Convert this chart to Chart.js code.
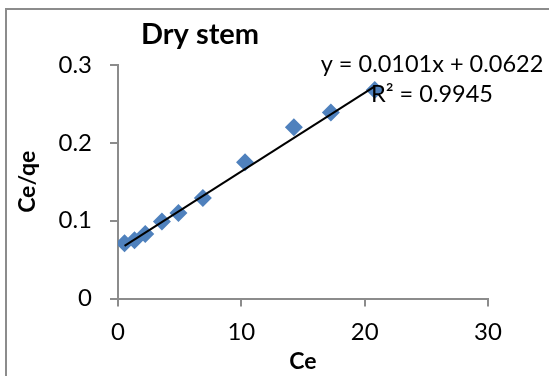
<!DOCTYPE html>
<html>
<head>
<meta charset="utf-8">
<script src="https://cdn.jsdelivr.net/npm/chart.js@4/dist/chart.umd.min.js"></script>
<style>
    html, body { margin: 0; padding: 0; background: #fff; overflow: hidden; }
    #frame { position: absolute; left: 5px; top: 8px; width: 600px; height: 400px; border: 2px solid #8c8c8c; }
    #wrap { position: absolute; left: 0; top: 0; width: 549px; height: 376px; }
</style>
</head>
<body>
<div id="frame"></div>
<div id="wrap"><canvas id="isoChart"></canvas></div>
<script>
// Dry stem isotherm: Ce vs Ce/qe
const ceValues   = [0.53, 1.34, 2.21, 3.56, 4.90, 6.88, 10.3, 14.26, 17.26, 20.82];
const ceQeValues = [0.071, 0.075, 0.083, 0.099, 0.110, 0.129, 0.175, 0.220, 0.239, 0.268];

// linear trendline as printed on the chart
const trendSlope = 0.0101;
const trendIntercept = 0.0622;
const trendX = [0.53, 20.82];

const xTicks = [0, 10, 20, 30];
const yTicks = [0, 0.1, 0.2, 0.3];

const chartTitle = 'Dry stem';
const eqLines = ['y = 0.0101x + 0.0622', 'R\u00b2 = 0.9945'];

const FONT = 'Lato';
const AXIS_GREY = '#8c8c8c';

const annotations = {
    id: 'annotations',
    afterDraw(chart) {
        const ctx = chart.ctx;
        ctx.save();
        ctx.fillStyle = '#000';
        ctx.textAlign = 'center';
        ctx.textBaseline = 'alphabetic';
        ctx.font = 'bold 29px ' + FONT;
        ctx.fillText(chartTitle, 200, 44);
        ctx.font = '23.5px ' + FONT;
        ctx.fillText(eqLines[0], 432, 72);
        ctx.fillText(eqLines[1], 432, 102);
        ctx.restore();
    }
};

new Chart(document.getElementById('isoChart').getContext('2d'), {
    type: 'scatter',
    data: {
        datasets: [
            {
                label: 'Trend',
                type: 'line',
                order: 0,
                data: trendX.map(x => ({ x: x, y: trendSlope * x + trendIntercept })),
                borderColor: '#000',
                borderWidth: 2,
                pointRadius: 0,
                fill: false
            },
            {
                label: 'Ce/qe',
                order: 1,
                data: ceValues.map((x, i) => ({ x: x, y: ceQeValues[i] })),
                pointStyle: 'rectRot',
                pointRadius: 9,
                pointBackgroundColor: '#4f81bd',
                pointBorderColor: '#4f81bd',
                pointBorderWidth: 0
            }
        ]
    },
    options: {
        responsive: true,
        maintainAspectRatio: false,
        animation: false,
        layout: { padding: { top: 65, right: 61, left: 0, bottom: 0 } },
        plugins: {
            legend: { display: false },
            tooltip: { enabled: false },
            title: { display: false }
        },
        scales: {
            x: {
                type: 'linear',
                min: 0,
                max: 30,
                afterFit(scale) { scale.height = 77.5; },
                afterBuildTicks(scale) { scale.ticks = xTicks.map(v => ({ value: v })); },
                border: { color: AXIS_GREY, width: 2 },
                grid: { drawOnChartArea: false, color: AXIS_GREY, lineWidth: 2, tickLength: 8 },
                ticks: { color: '#000', padding: 11, font: { family: FONT, size: 24 } },
                title: {
                    display: true,
                    text: 'Ce',
                    color: '#000',
                    padding: { top: 0, bottom: 1 },
                    font: { family: FONT, size: 23, weight: 'bold' }
                }
            },
            y: {
                type: 'linear',
                min: 0,
                max: 0.3,
                afterFit(scale) { scale.width = 118; },
                afterBuildTicks(scale) { scale.ticks = yTicks.map(v => ({ value: v })); },
                border: { color: AXIS_GREY, width: 2 },
                grid: { drawOnChartArea: false, color: AXIS_GREY, lineWidth: 2, tickLength: 8 },
                ticks: {
                    color: '#000',
                    padding: 18,
                    font: { family: FONT, size: 24 },
                    callback: v => String(Math.round(v * 10) / 10)
                },
                title: {
                    display: true,
                    text: 'Ce/qe',
                    color: '#000',
                    padding: { top: 14, bottom: 0 },
                    font: { family: FONT, size: 23, weight: 'bold' }
                }
            }
        }
    },
    plugins: [annotations]
});
</script>
</body>
</html>
